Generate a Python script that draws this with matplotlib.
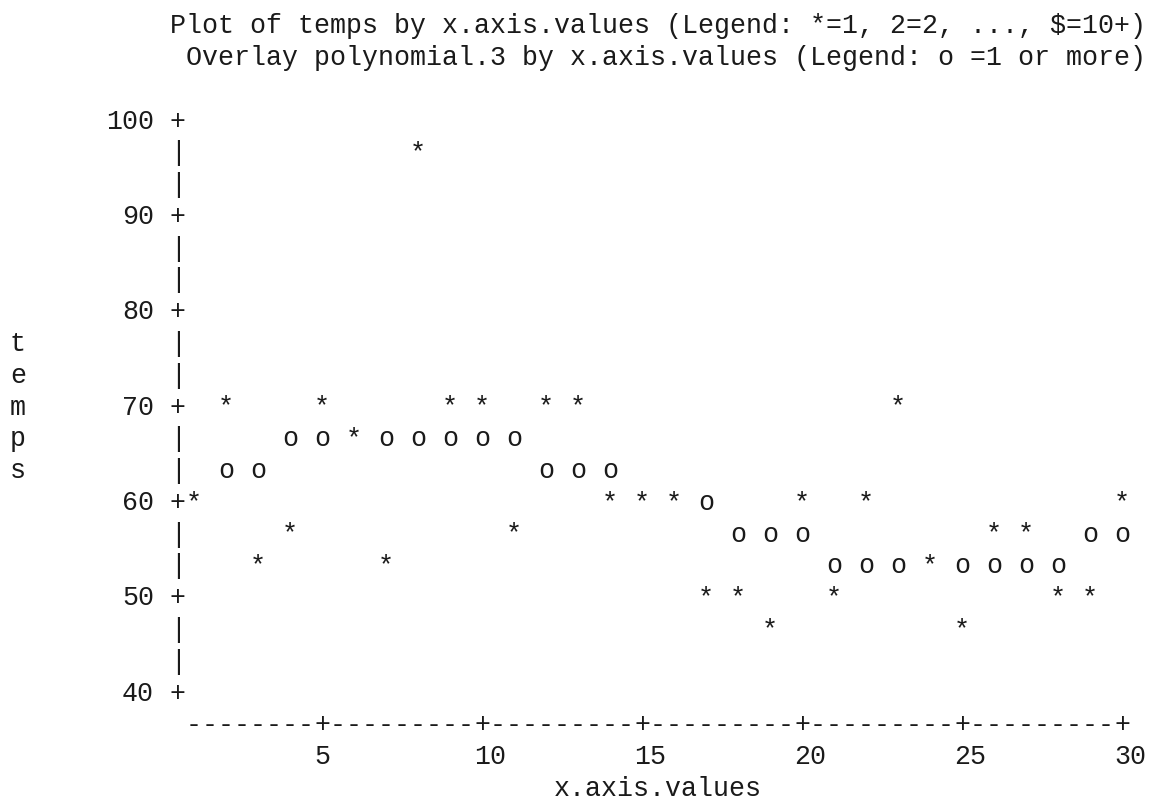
import matplotlib

matplotlib.use("Agg")

import matplotlib.pyplot as plt
import matplotlib.transforms as mtransforms

# data
x_values = list(range(1, 31))
temps = [60, 70, 53, 57, 70, 67, 53, 97, 70, 70, 57, 70, 70, 60, 60,
         60, 50, 50, 47, 60, 50, 60, 70, 53, 47, 57, 57, 50, 50, 60]
polynomial_3 = [60.5, 62.6, 64.3, 65.5, 66.4, 66.9, 67.1, 67.0, 66.6, 65.9,
                65.1, 64.1, 63.0, 61.8, 60.6, 59.4, 58.4, 57.3, 56.4, 55.6,
                54.9, 54.4, 54.1, 54.0, 54.1, 54.4, 54.6, 54.9, 55.5, 56.2]
y_ticks = [100, 90, 80, 70, 60, 50, 40]
x_ticks = [5, 10, 15, 20, 25, 30]
title_lines = [
    "Plot of temps by x.axis.values (Legend: *=1, 2=2, ..., $=10+)",
    "Overlay polynomial.3 by x.axis.values (Legend: o =1 or more)",
]
x_label = "x.axis.values"
y_label = "temps"

Y_TOP, Y_BOTTOM = 100, 40
STEP = 10 / 3          # three print rows per 10 units
COL_PX = 16            # one character cell
ROW_PX = 31.78         # one print line
AXIS_COL_PX = 178      # pixel centre of the vertical axis column
TOP_ROW_PX = 120       # pixel centre of the "100 +" line
FONT = "Liberation Mono"
FONT_SIZE = COL_PX / 0.6 * 72 / 100
INK = "#1a1a1a"


def snap(v):
    return Y_TOP - round((Y_TOP - v) / STEP) * STEP


def col_x(c):
    # column 0 is the axis column, column 1 holds x=1
    return 0.5 + c / 2


def row_y(r):
    return Y_TOP - r * STEP


fig = plt.figure(figsize=(11.49, 8.04), dpi=100)
ax = fig.add_axes([0, 0, 1, 1])
ax.set_xlim(col_x(-AXIS_COL_PX / COL_PX), col_x((1149 - AXIS_COL_PX) / COL_PX))
ax.set_ylim(row_y((804 - TOP_ROW_PX) / ROW_PX), row_y(-TOP_ROW_PX / ROW_PX))
ax.axis("off")

trans = mtransforms.offset_copy(ax.transData, fig=fig, x=0, y=-8.5, units="dots")


def put(x, y, s, ha="center"):
    ax.text(x, y, s, transform=trans, ha=ha, va="baseline",
            family=FONT, fontsize=FONT_SIZE, color=INK)


def put_row(c, r, s):
    # string whose first character sits in column c
    ax.text(col_x(c) - 0.25, row_y(r), s, transform=trans, ha="left",
            va="baseline", family=FONT, fontsize=FONT_SIZE, color=INK)


# titles
put_row(0, -3, title_lines[0])
put_row(1, -2, title_lines[1])

# vertical axis
n_rows = round((Y_TOP - Y_BOTTOM) / STEP)
for r in range(n_rows + 1):
    v = row_y(r)
    tick = any(abs(v - t) < 1e-6 for t in y_ticks)
    put(col_x(0), v, "+" if tick else "|")
    if tick:
        lab = str(round(v))
        put_row(-1 - len(lab), r, lab)

# y label, one letter per line, centred on the 70 line
mid = round((Y_TOP - 70) / STEP)
for i, ch in enumerate(y_label):
    put_row(-10, mid - len(y_label) // 2 + i, ch)

# horizontal axis
last_col = 2 * (x_values[-1] - 1) + 1
tick_cols = {2 * (t - 1) + 1: t for t in x_ticks}
for c in range(1, last_col + 1):
    put(col_x(c), row_y(n_rows + 1), "+" if c in tick_cols else "-")
for c, t in tick_cols.items():
    put_row(c, n_rows + 2, str(t))
put_row(30 - len(x_label) // 2, n_rows + 3, x_label)

# overlay first, then the data symbols win any shared cell
star_cells = {(x, snap(t)) for x, t in zip(x_values, temps)}
for x, p in zip(x_values, polynomial_3):
    if (x, snap(p)) not in star_cells:
        put(x, snap(p), "o")
for x, t in zip(x_values, temps):
    put(x, snap(t), "*")

fig.savefig("out.png", dpi=100, facecolor="white")
plt.close(fig)
